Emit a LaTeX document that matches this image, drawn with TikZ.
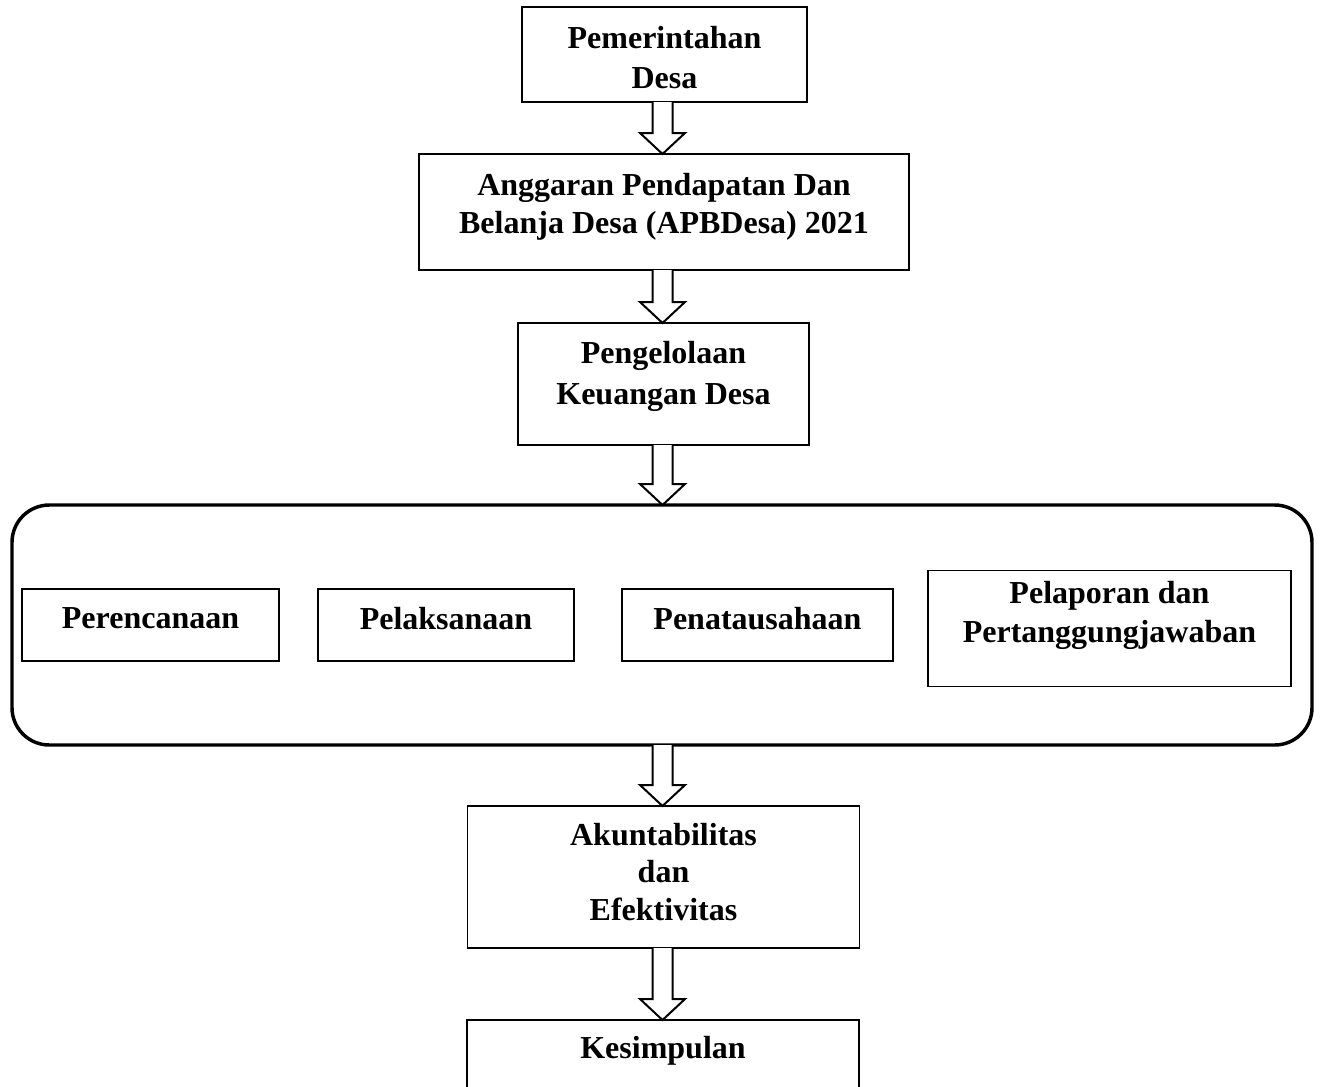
\documentclass[tikz,border=0pt]{standalone}
\usepackage{fontspec}
\setmainfont{Liberation Serif}
\usetikzlibrary{calc}
\tikzset{
  box/.style={draw, line width=1pt, inner sep=0pt, outer sep=0pt, fill=none},
  frame/.style={draw, line width=2.6pt, inner sep=0pt, outer sep=0pt, rounded corners=28pt},
  txt/.style={inner sep=0pt, outer sep=0pt, align=center, font=\bfseries\fontsize{24}{29}\selectfont},
  hollow/.style={draw, line width=1.5pt, line join=miter, fill=white},
}
\newcommand\harrow[2]{%
  \path (662.5,0 |- #1.south) coordinate (s) (662.5,0 |- #2.north) coordinate (e);
  \draw[hollow] ($(s)+(-10,0)$) -- ($(e)+(-10,-21)$) -- ($(e)+(-22.5,-21)$) -- (e)
    -- ($(e)+(22.5,-21)$) -- ($(e)+(10,-21)$) -- ($(s)+(10,0)$);
}
\begin{document}
\begin{tikzpicture}[x=0.75pt,y=-0.75pt]
\useasboundingbox (0,0) rectangle (1321,1086);
\clip (0,0) rectangle (1321,1086);
% boxes
\node[box, minimum width=213.75pt, minimum height=71.25pt] (b1) at (664.5,54.5) {};
\node[box, minimum width=367.5pt, minimum height=87pt] (b2) at (664,212) {};
\node[box, minimum width=218.25pt, minimum height=91.5pt] (b3) at (663.5,384) {};
\node[frame, minimum width=975pt, minimum height=180pt] (fr) at (662,625) {};
\node[box, minimum width=192.75pt, minimum height=54pt] (p1) at (150.5,625) {};
\node[box, minimum width=192pt, minimum height=54pt] (p2) at (446,625) {};
\node[box, minimum width=203.25pt, minimum height=54pt] (p3) at (757.5,625) {};
\node[box, minimum width=272.25pt, minimum height=87pt] (p4) at (1109.5,628.5) {};
\node[box, minimum width=294pt, minimum height=106.5pt] (b4) at (663.5,877) {};
\node[box, minimum width=294pt, minimum height=60pt] (b5) at (663,1060) {};
% texts
\node[txt, font=\bfseries\fontsize{24}{30}\selectfont] (t1) at (664.5,57.2) {Pemerintahan\\Desa};
\node[txt, font=\bfseries\fontsize{24}{28.5}\selectfont] (t2) at (664,206.5) {Anggaran Pendapatan Dan\\Belanja Desa (APBDesa) 2021};
\node[txt, font=\bfseries\fontsize{24}{30.75}\selectfont] (t3) at (663.5,376) {Pengelolaan\\Keuangan Desa};
\node[txt, anchor=base] (tp1) at (150.5,628) {Perencanaan};
\node[txt, anchor=base] (tp2) at (446,629) {Pelaksanaan};
\node[txt, anchor=base] (tp3) at (757.5,629) {Penatausahaan};
\node[txt, font=\bfseries\fontsize{24}{29.25}\selectfont] (tp4) at (1109.5,615) {Pelaporan dan\\Pertanggungjawaban};
\node[txt, font=\bfseries\fontsize{24}{28.1}\selectfont] (t4) at (663.5,871.7) {Akuntabilitas\\dan\\Efektivitas};
\node[txt, anchor=base] (t5) at (663,1058) {Kesimpulan};
% arrows
\harrow{b1}{b2}
\harrow{b2}{b3}
\harrow{b3}{fr}
\harrow{fr}{b4}
\harrow{b4}{b5}
\end{tikzpicture}
\end{document}
